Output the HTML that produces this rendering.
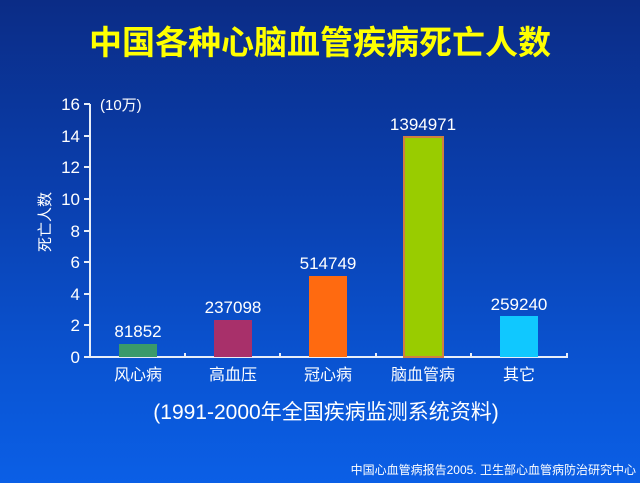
<!DOCTYPE html>
<html><head><meta charset="utf-8"><style>
html,body{margin:0;padding:0}
body{width:640px;height:483px;overflow:hidden;background:linear-gradient(180deg,#0b2c86 0%,#0a3fae 40%,#0a56d6 80%,#0b5fe6 100%);font-family:"Liberation Sans","Noto Sans CJK SC",sans-serif}
</style></head><body>
<svg width="640" height="483" xmlns="http://www.w3.org/2000/svg" style="position:absolute;left:0;top:0;font-family:'Liberation Sans','Noto Sans CJK SC',sans-serif">
<text x="320" y="54" text-anchor="middle" font-size="33" font-weight="bold" fill="#ffff00">中国各种心脑血管疾病死亡人数</text>
<g stroke="#e8eef8" stroke-width="2" fill="none">
<path d="M90 104 V357 H567 V353"/>
<path d="M84 104H90M84 136H90M84 167H90M84 199H90M84 231H90M84 262H90M84 294H90M84 325H90M84 357H90"/>
<path d="M185 357V353M280 357V353M376 357V353M471 357V353"/>
</g>
<g fill="#fff" font-size="17" text-anchor="end">
<text x="80" y="110">16</text><text x="80" y="142">14</text><text x="80" y="173">12</text><text x="80" y="205">10</text><text x="80" y="237">8</text><text x="80" y="268">6</text><text x="80" y="300">4</text><text x="80" y="331">2</text><text x="80" y="363">0</text>
</g>
<text x="100" y="110" fill="#fff" font-size="15">(10万)</text>
<text transform="translate(50,222) rotate(-90)" text-anchor="middle" fill="#fff" font-size="15">死亡人数</text>
<rect x="119" y="344" width="38" height="13" fill="#3a9a6a"/>
<rect x="214" y="320" width="38" height="37" fill="#a8306a"/>
<rect x="309" y="276" width="38" height="81" fill="#ff6a10"/>
<rect x="404" y="137" width="39" height="220" fill="#99cc00" stroke="#d08040" stroke-width="2"/>
<rect x="500" y="316" width="38" height="41" fill="#10c8ff"/>
<g fill="#fff" font-size="17" text-anchor="middle">
<text x="138" y="337">81852</text><text x="233" y="313">237098</text><text x="328" y="269">514749</text><text x="423" y="130">1394971</text><text x="519" y="310">259240</text>
</g>
<g fill="#fff" font-size="16" text-anchor="middle">
<text x="138" y="380">风心病</text><text x="233" y="380">高血压</text><text x="328" y="380">冠心病</text><text x="423" y="380">脑血管病</text><text x="519" y="380">其它</text>
</g>
<text x="326" y="419" text-anchor="middle" fill="#fff" font-size="21">(1991-2000年全国疾病监测系统资料)</text>
<text x="636" y="474" text-anchor="end" fill="#fff" font-size="12">中国心血管病报告2005. 卫生部心血管病防治研究中心</text>
</svg>
</body></html>
